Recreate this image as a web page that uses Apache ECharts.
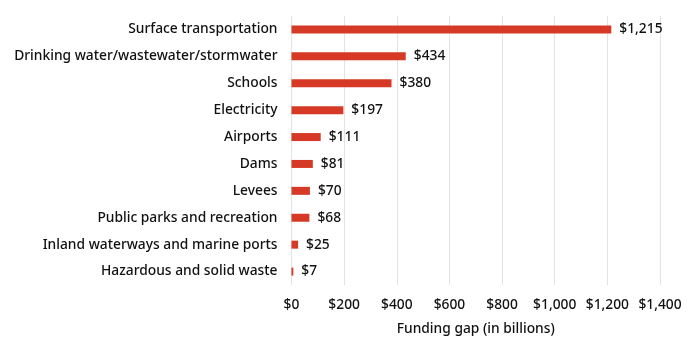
<!DOCTYPE html>
<html><head><meta charset="utf-8">
<script src="https://cdn.jsdelivr.net/npm/echarts@6/dist/echarts.min.js"></script>
<style>html,body{margin:0;padding:0;background:#fff}#c{width:700px;height:353px}</style>
</head><body><div id="c"></div>
<script>
const categories = ["Surface transportation","Drinking water/wastewater/stormwater","Schools","Electricity","Airports","Dams","Levees","Public parks and recreation","Inland waterways and marine ports","Hazardous and solid waste"];
const values = [1215,434,380,197,111,81,70,68,25,7];
const xTicks = [0,200,400,600,800,1000,1200,1400];
const axisTitle = "Funding gap (in billions)";
const fmt = v => "$" + v.toLocaleString("en-US");
const chart = echarts.init(document.getElementById('c'), null, {renderer:'canvas'});
const font = "Noto Sans";
const fw = 500;
const col = '#111';
const fs = 13.8;
chart.setOption({
  animation:false,
  grid:{left:291.5, right:40, top:16, bottom:68},
  xAxis:{type:'value', min:xTicks[0], max:xTicks[xTicks.length-1], interval:200,
    axisLine:{show:false}, axisTick:{show:false},
    splitLine:{lineStyle:{color:'#e3e3e3', width:1}},
    axisLabel:{formatter:fmt, color:col, fontSize:fs, fontFamily:font, fontWeight:fw, margin:13},
    name:axisTitle, nameLocation:'middle', nameGap:37,
    nameTextStyle:{color:col, fontSize:fs, fontFamily:font, fontWeight:fw}},
  yAxis:{type:'category', data:categories, inverse:true,
    axisLine:{show:false}, axisTick:{show:false},
    axisLabel:{color:col, fontSize:fs, fontFamily:font, fontWeight:fw, margin:14}},
  series:[{type:'bar', data:values, barWidth:8,
    itemStyle:{color:'#d63a26'},
    label:{show:true, position:'right', distance:8, formatter:p=>fmt(p.value), color:col, fontSize:fs, fontFamily:font, fontWeight:fw}}]
});
</script></body></html>
